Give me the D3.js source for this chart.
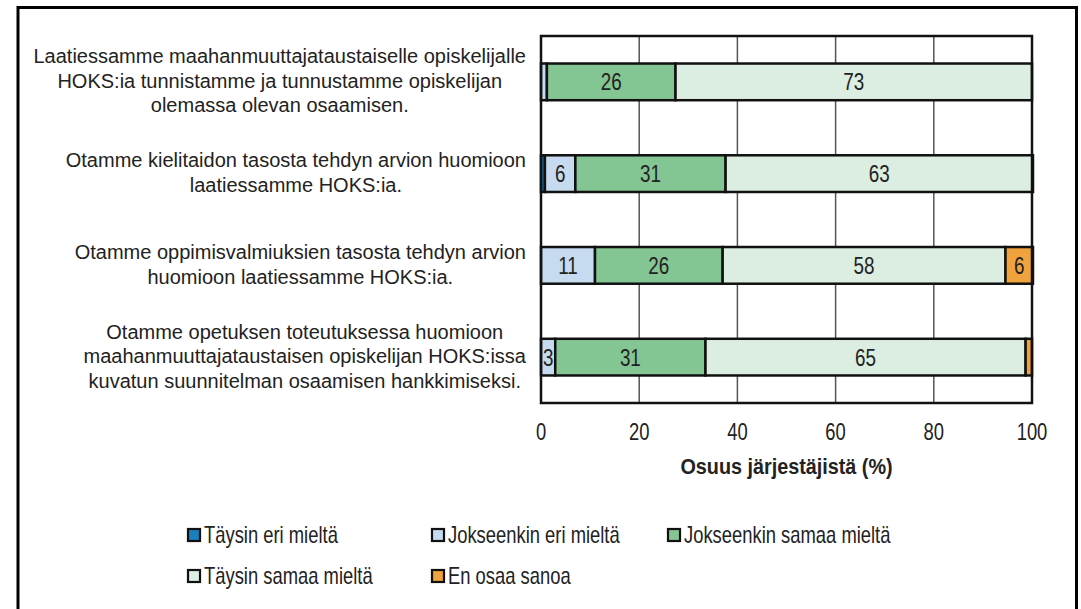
<!DOCTYPE html>
<html><head><meta charset="utf-8">
<script src="https://cdn.jsdelivr.net/npm/d3@7"></script>
<style>
body{margin:0;background:#fff;}
svg text{font-family:"Liberation Sans",Arial,sans-serif;}
</style></head>
<body><svg id="c" width="1081" height="609"></svg>
<script>
const categories = [
  ["Laatiessamme maahanmuuttajataustaiselle opiskelijalle","HOKS:ia tunnistamme ja tunnustamme opiskelijan","olemassa olevan osaamisen."],
  ["Otamme kielitaidon tasosta tehdyn arvion huomioon","laatiessamme HOKS:ia."],
  ["Otamme oppimisvalmiuksien tasosta tehdyn arvion","huomioon laatiessamme HOKS:ia."],
  ["Otamme opetuksen toteutuksessa huomioon","maahanmuuttajataustaisen opiskelijan HOKS:issa","kuvatun suunnitelman osaamisen hankkimiseksi."]
];
const seriesNames = ["Täysin eri mieltä","Jokseenkin eri mieltä","Jokseenkin samaa mieltä","Täysin samaa mieltä","En osaa sanoa"];
const taysinEri      = [0,   0.8, 0,    0];
const jokseenkinEri  = [1.2, 6.2, 11,   2.9];
const jokseenkinSamaa= [26.2,30.6,26,   30.6];
const taysinSamaa    = [72.6,62.6,57.6, 65.2];
const enOsaa         = [0,   0,   5.6,  1.3];
const xTicks = [0,20,40,60,80,100];
const colors = ["#1a7fc1","#c6dbf0","#84c594","#dcede1","#f0a23c"];

const series = [taysinEri,jokseenkinEri,jokseenkinSamaa,taysinSamaa,enOsaa];
const rows = categories.map((c,i)=>{const o={i}; seriesNames.forEach((s,k)=>o[s]=series[k][i]); return o;});

const svg = d3.select("#c");
function ntext(parent,x,y,str,fs,sx,anchor,weight){
  const g=parent.append("g").attr("transform",`translate(${x},${y}) scale(${sx},1)`);
  g.append("text").attr("x",0).attr("y",0).attr("font-size",fs).attr("fill","#222")
    .attr("text-anchor",anchor||"start").attr("font-weight",weight||"normal").text(str);
  return g;
}

// outer frame
svg.append("rect").attr("x",18).attr("y",7.5).attr("width",1058.5).attr("height",640)
  .attr("fill","none").attr("stroke","#000").attr("stroke-width",3);

const L=541,R=1032,T=36,B=403;
const x = d3.scaleLinear().domain([0,100]).range([L,R]);
const y = d3.scaleBand().domain(d3.range(categories.length)).range([T,B]).paddingInner(0.6).paddingOuter(0.3);

svg.append("g").selectAll("line").data(xTicks.slice(1,-1)).join("line")
  .attr("x1",d=>x(d)).attr("x2",d=>x(d)).attr("y1",T).attr("y2",B)
  .attr("stroke","#555").attr("stroke-width",1.5);

const stack = d3.stack().keys(seriesNames)(rows);
const g = svg.append("g");
stack.forEach((layer,k)=>{
  g.selectAll(null).data(layer).join("rect")
    .filter(d=>d[1]-d[0]>0)
    .attr("x",d=>x(d[0])).attr("width",d=>x(d[1])-x(d[0]))
    .attr("y",d=>y(d.data.i)).attr("height",y.bandwidth())
    .attr("fill",colors[k]).attr("stroke","#111").attr("stroke-width",2.5);
});
stack.forEach((layer,k)=>{
  layer.forEach((d,i)=>{
    const v=Math.round(series[k][i]);
    if(v>=3) ntext(g,x((d[0]+d[1])/2),y(i)+y.bandwidth()/2+8.5,v,23,0.82,"middle");
  });
});

svg.append("rect").attr("x",L).attr("y",T).attr("width",R-L).attr("height",B-T)
  .attr("fill","none").attr("stroke","#111").attr("stroke-width",2.5);

xTicks.forEach(d=>ntext(svg,x(d),440,d,23,0.8,"middle"));
ntext(svg,(L+R)/2,474,"Osuus järjestäjistä (%)",22,0.9,"middle","bold");

const lh=24.5, cfs=20;
categories.forEach((lines,i)=>{
  const cy = y(i)+y.bandwidth()/2;
  const t = svg.append("text").attr("font-size",cfs).attr("fill","#222").attr("text-anchor","middle");
  const spans = lines.map(s=>t.append("tspan").text(s));
  const w = d3.max(spans.map(sp=>sp.node().getComputedTextLength()));
  const cx = 526 - w/2;
  spans.forEach((sp,j)=>sp.attr("x",cx).attr("y",cy + (j-(lines.length-1)/2)*lh + 6));
});

const legPos = [[188,543],[432,543],[668,543],[188,584],[432,584]];
const lg = svg.append("g");
seriesNames.forEach((s,k)=>{
  const [lx,ly]=legPos[k];
  lg.append("rect").attr("x",lx).attr("y",ly-14).attr("width",12).attr("height",12)
    .attr("fill",colors[k]).attr("stroke","#111").attr("stroke-width",2.2);
  ntext(lg,lx+16,ly,s,23,0.8,"start");
});
</script></body></html>
